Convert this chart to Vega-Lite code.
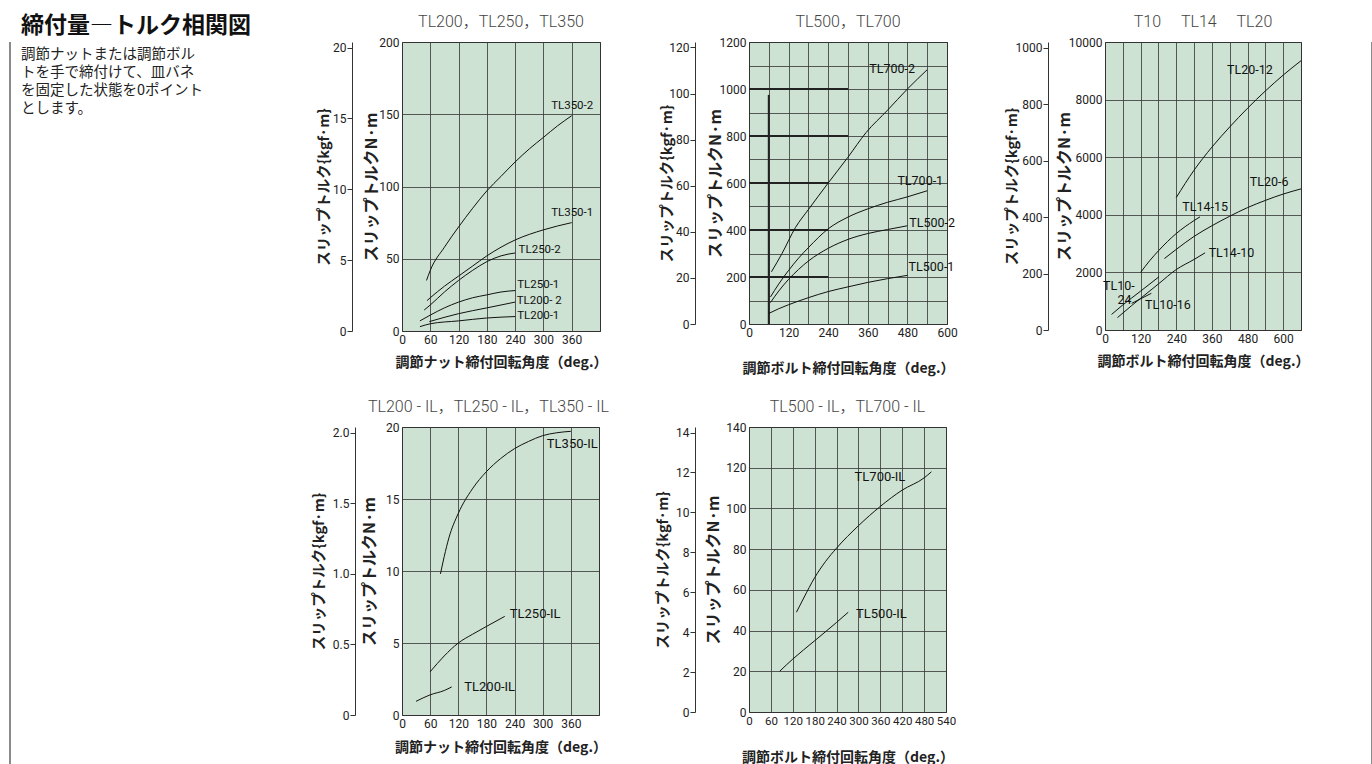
{
 "$schema": "https://vega.github.io/schema/vega-lite/v6.json",
 "padding": {"left": 7, "top": 13, "right": 0, "bottom": 0},
 "autosize": {"type": "pad"},
 "background": "white",
 "config": {
  "view": {"fill": "#cde2d2", "stroke": "#333333", "strokeWidth": 1},
  "axis": {"labelFont": "Roboto", "labelFontSize": 12, "labelColor": "#222222", "titleFont": "Noto Sans CJK JP", "titleFontWeight": "bold", "titleFontSize": 14.5, "titleColor": "#222222", "gridColor": "#333333", "gridWidth": 0.8, "gridOpacity": 1, "domain": false, "ticks": false, "labelFlush": false, "labelOverlap": false, "labelPadding": 3, "format": "d"},
  "axisX": {"labelOverlap": false},
  "axisLeft": {"titleAngle": 270, "titleBaseline": "middle"},
  "axisBottom": {"titleBaseline": "middle", "titleFontSize": 14},
  "title": {"font": "Roboto, Noto Sans CJK JP", "fontSize": 16, "fontWeight": 300, "color": "#444444", "frame": "group", "offset": 6},
  "line": {"color": "#111111", "strokeWidth": 1},
  "text": {"font": "Roboto, Noto Sans CJK JP", "fontSize": 12.5, "color": "#111111"}
 },
 "datasets": {
  "note": [
   {"line": 1, "text": "調節ナットまたは調節ボル"},
   {"line": 2, "text": "トを手で締付けて、皿バネ"},
   {"line": 3, "text": "を固定した状態を0ポイント"},
   {"line": 4, "text": "とします。"}
  ],
  "p1": [
   {"s": "TL350-2", "deg": 52, "nm": 35}, {"s": "TL350-2", "deg": 60, "nm": 42}, {"s": "TL350-2", "deg": 90, "nm": 58}, {"s": "TL350-2", "deg": 120, "nm": 72}, {"s": "TL350-2", "deg": 150, "nm": 85}, {"s": "TL350-2", "deg": 180, "nm": 97}, {"s": "TL350-2", "deg": 210, "nm": 107}, {"s": "TL350-2", "deg": 240, "nm": 117}, {"s": "TL350-2", "deg": 270, "nm": 126}, {"s": "TL350-2", "deg": 300, "nm": 134}, {"s": "TL350-2", "deg": 330, "nm": 142}, {"s": "TL350-2", "deg": 360, "nm": 149},
   {"s": "TL350-1", "deg": 53, "nm": 21}, {"s": "TL350-1", "deg": 60, "nm": 23}, {"s": "TL350-1", "deg": 90, "nm": 31}, {"s": "TL350-1", "deg": 120, "nm": 38}, {"s": "TL350-1", "deg": 150, "nm": 45}, {"s": "TL350-1", "deg": 180, "nm": 52}, {"s": "TL350-1", "deg": 210, "nm": 58}, {"s": "TL350-1", "deg": 240, "nm": 63}, {"s": "TL350-1", "deg": 300, "nm": 70}, {"s": "TL350-1", "deg": 360, "nm": 75},
   {"s": "TL250-2", "deg": 47, "nm": 14.5}, {"s": "TL250-2", "deg": 60, "nm": 18}, {"s": "TL250-2", "deg": 90, "nm": 27}, {"s": "TL250-2", "deg": 120, "nm": 35}, {"s": "TL250-2", "deg": 150, "nm": 42}, {"s": "TL250-2", "deg": 180, "nm": 48}, {"s": "TL250-2", "deg": 210, "nm": 52}, {"s": "TL250-2", "deg": 240, "nm": 54},
   {"s": "TL250-1", "deg": 38, "nm": 7}, {"s": "TL250-1", "deg": 60, "nm": 11}, {"s": "TL250-1", "deg": 90, "nm": 16}, {"s": "TL250-1", "deg": 120, "nm": 20}, {"s": "TL250-1", "deg": 150, "nm": 23}, {"s": "TL250-1", "deg": 180, "nm": 25}, {"s": "TL250-1", "deg": 210, "nm": 27}, {"s": "TL250-1", "deg": 240, "nm": 28},
   {"s": "TL200-2", "deg": 58, "nm": 6.5}, {"s": "TL200-2", "deg": 120, "nm": 12}, {"s": "TL200-2", "deg": 180, "nm": 16}, {"s": "TL200-2", "deg": 240, "nm": 20},
   {"s": "TL200-1", "deg": 38, "nm": 3}, {"s": "TL200-1", "deg": 60, "nm": 5}, {"s": "TL200-1", "deg": 120, "nm": 7}, {"s": "TL200-1", "deg": 180, "nm": 9}, {"s": "TL200-1", "deg": 240, "nm": 10}
  ],
  "p1l": [
   {"s": "TL350-2", "deg": 361, "nm": 156}, {"s": "TL350-1", "deg": 361, "nm": 82}, {"s": "TL250-2", "deg": 292, "nm": 56}, {"s": "TL250-1", "deg": 289, "nm": 31.5}, {"s": "TL200- 2", "deg": 291, "nm": 20.5}, {"s": "TL200-1", "deg": 289, "nm": 10.5}
  ],
  "p2": [
   {"s": "TL700-2", "deg": 68, "nm": 222}, {"s": "TL700-2", "deg": 100, "nm": 300}, {"s": "TL700-2", "deg": 141, "nm": 411}, {"s": "TL700-2", "deg": 180, "nm": 487}, {"s": "TL700-2", "deg": 240, "nm": 600}, {"s": "TL700-2", "deg": 300, "nm": 710}, {"s": "TL700-2", "deg": 355, "nm": 815}, {"s": "TL700-2", "deg": 420, "nm": 910}, {"s": "TL700-2", "deg": 480, "nm": 1000}, {"s": "TL700-2", "deg": 540, "nm": 1082},
   {"s": "TL700-1", "deg": 65, "nm": 115}, {"s": "TL700-1", "deg": 90, "nm": 170}, {"s": "TL700-1", "deg": 120, "nm": 228}, {"s": "TL700-1", "deg": 150, "nm": 280}, {"s": "TL700-1", "deg": 180, "nm": 325}, {"s": "TL700-1", "deg": 240, "nm": 405}, {"s": "TL700-1", "deg": 300, "nm": 455}, {"s": "TL700-1", "deg": 360, "nm": 490}, {"s": "TL700-1", "deg": 420, "nm": 518}, {"s": "TL700-1", "deg": 480, "nm": 541}, {"s": "TL700-1", "deg": 540, "nm": 567},
   {"s": "TL500-2", "deg": 65, "nm": 91}, {"s": "TL500-2", "deg": 90, "nm": 140}, {"s": "TL500-2", "deg": 120, "nm": 190}, {"s": "TL500-2", "deg": 150, "nm": 232}, {"s": "TL500-2", "deg": 180, "nm": 268}, {"s": "TL500-2", "deg": 240, "nm": 322}, {"s": "TL500-2", "deg": 300, "nm": 360}, {"s": "TL500-2", "deg": 360, "nm": 385}, {"s": "TL500-2", "deg": 420, "nm": 402}, {"s": "TL500-2", "deg": 480, "nm": 418},
   {"s": "TL500-1", "deg": 60, "nm": 45}, {"s": "TL500-1", "deg": 90, "nm": 65}, {"s": "TL500-1", "deg": 120, "nm": 82}, {"s": "TL500-1", "deg": 180, "nm": 112}, {"s": "TL500-1", "deg": 240, "nm": 138}, {"s": "TL500-1", "deg": 300, "nm": 158}, {"s": "TL500-1", "deg": 360, "nm": 177}, {"s": "TL500-1", "deg": 420, "nm": 193}, {"s": "TL500-1", "deg": 480, "nm": 207}
  ],
  "p2l": [
   {"s": "TL700-2", "deg": 434, "nm": 1086}, {"s": "TL700-1", "deg": 519, "nm": 609}, {"s": "TL500-2", "deg": 555, "nm": 430}, {"s": "TL500-1", "deg": 553, "nm": 241}
  ],
  "p2r": [
   {"deg": 0, "deg2": 300, "nm": 1000, "nm2": 1000}, {"deg": 0, "deg2": 300, "nm": 800, "nm2": 800}, {"deg": 0, "deg2": 240, "nm": 600, "nm2": 600}, {"deg": 0, "deg2": 240, "nm": 400, "nm2": 400}, {"deg": 0, "deg2": 240, "nm": 200, "nm2": 200}, {"deg": 60, "deg2": 60, "nm": 0, "nm2": 975}
  ],
  "p3": [
   {"s": "TL20-12", "deg": 240, "nm": 4600}, {"s": "TL20-12", "deg": 300, "nm": 5550}, {"s": "TL20-12", "deg": 360, "nm": 6350}, {"s": "TL20-12", "deg": 420, "nm": 7050}, {"s": "TL20-12", "deg": 480, "nm": 7700}, {"s": "TL20-12", "deg": 540, "nm": 8300}, {"s": "TL20-12", "deg": 600, "nm": 8850}, {"s": "TL20-12", "deg": 660, "nm": 9350},
   {"s": "TL20-6", "deg": 200, "nm": 2480}, {"s": "TL20-6", "deg": 240, "nm": 2800}, {"s": "TL20-6", "deg": 300, "nm": 3250}, {"s": "TL20-6", "deg": 360, "nm": 3620}, {"s": "TL20-6", "deg": 420, "nm": 3950}, {"s": "TL20-6", "deg": 480, "nm": 4250}, {"s": "TL20-6", "deg": 540, "nm": 4500}, {"s": "TL20-6", "deg": 600, "nm": 4720}, {"s": "TL20-6", "deg": 660, "nm": 4900},
   {"s": "TL14-15", "deg": 120, "nm": 2000}, {"s": "TL14-15", "deg": 150, "nm": 2400}, {"s": "TL14-15", "deg": 180, "nm": 2750}, {"s": "TL14-15", "deg": 240, "nm": 3350}, {"s": "TL14-15", "deg": 300, "nm": 3800}, {"s": "TL14-15", "deg": 320, "nm": 3930},
   {"s": "TL14-10", "deg": 42, "nm": 430}, {"s": "TL14-10", "deg": 90, "nm": 850}, {"s": "TL14-10", "deg": 120, "nm": 1100}, {"s": "TL14-10", "deg": 180, "nm": 1600}, {"s": "TL14-10", "deg": 240, "nm": 2100}, {"s": "TL14-10", "deg": 300, "nm": 2450}, {"s": "TL14-10", "deg": 337, "nm": 2680},
   {"s": "TL10-24", "deg": 22, "nm": 540}, {"s": "TL10-24", "deg": 60, "nm": 870}, {"s": "TL10-24", "deg": 120, "nm": 1350}, {"s": "TL10-24", "deg": 182, "nm": 1850},
   {"s": "TL10-16", "deg": 90, "nm": 926}, {"s": "TL10-16", "deg": 156, "nm": 1273}
  ],
  "p3l": [
   {"s": "TL20-12", "deg": 488, "nm": 9016}, {"s": "TL20-6", "deg": 553, "nm": 5139}, {"s": "TL14-15", "deg": 337, "nm": 4282}, {"s": "TL14-10", "deg": 426, "nm": 2685}, {"s": "TL10-", "deg": 47, "nm": 1528}, {"s": "24", "deg": 66, "nm": 1042}, {"s": "TL10-16", "deg": 212, "nm": 868}
  ],
  "p4": [
   {"s": "TL350-IL", "deg": 82, "nm": 9.8}, {"s": "TL350-IL", "deg": 90, "nm": 11}, {"s": "TL350-IL", "deg": 100, "nm": 12.3}, {"s": "TL350-IL", "deg": 120, "nm": 14}, {"s": "TL350-IL", "deg": 150, "nm": 15.7}, {"s": "TL350-IL", "deg": 180, "nm": 16.9}, {"s": "TL350-IL", "deg": 210, "nm": 17.8}, {"s": "TL350-IL", "deg": 240, "nm": 18.5}, {"s": "TL350-IL", "deg": 270, "nm": 19}, {"s": "TL350-IL", "deg": 300, "nm": 19.4}, {"s": "TL350-IL", "deg": 330, "nm": 19.6}, {"s": "TL350-IL", "deg": 360, "nm": 19.7},
   {"s": "TL250-IL", "deg": 60, "nm": 3}, {"s": "TL250-IL", "deg": 90, "nm": 4.1}, {"s": "TL250-IL", "deg": 120, "nm": 5}, {"s": "TL250-IL", "deg": 150, "nm": 5.6}, {"s": "TL250-IL", "deg": 180, "nm": 6.15}, {"s": "TL250-IL", "deg": 219, "nm": 6.85},
   {"s": "TL200-IL", "deg": 30, "nm": 0.95}, {"s": "TL200-IL", "deg": 60, "nm": 1.4}, {"s": "TL200-IL", "deg": 90, "nm": 1.7}, {"s": "TL200-IL", "deg": 106, "nm": 1.95}
  ],
  "p4l": [
   {"s": "TL350-IL", "deg": 363, "nm": 18.84}, {"s": "TL250-IL", "deg": 284, "nm": 7.0}, {"s": "TL200-IL", "deg": 187, "nm": 1.97}
  ],
  "p5": [
   {"s": "TL700-IL", "deg": 130, "nm": 49}, {"s": "TL700-IL", "deg": 150, "nm": 56}, {"s": "TL700-IL", "deg": 180, "nm": 66}, {"s": "TL700-IL", "deg": 210, "nm": 74}, {"s": "TL700-IL", "deg": 240, "nm": 80.5}, {"s": "TL700-IL", "deg": 300, "nm": 91.5}, {"s": "TL700-IL", "deg": 360, "nm": 101}, {"s": "TL700-IL", "deg": 420, "nm": 109}, {"s": "TL700-IL", "deg": 480, "nm": 115}, {"s": "TL700-IL", "deg": 500, "nm": 118},
   {"s": "TL500-IL", "deg": 84, "nm": 20}, {"s": "TL500-IL", "deg": 120, "nm": 26}, {"s": "TL500-IL", "deg": 180, "nm": 35}, {"s": "TL500-IL", "deg": 240, "nm": 44}, {"s": "TL500-IL", "deg": 272, "nm": 49}
  ],
  "p5l": [
   {"s": "TL700-IL", "deg": 359, "nm": 115.4}, {"s": "TL500-IL", "deg": 363, "nm": 48.2}
  ],
  "dummy": [{"k": 0}]
 },
 "spacing": 59,
 "hconcat": [
  {
   "spacing": 8,
   "hconcat": [
    {"width": 2, "height": 751, "view": {"stroke": null, "fill": "#8a8a8a"}, "data": {"name": "dummy"}, "mark": {"type": "point", "opacity": 0}},
    {
     "columns": 6,
     "align": "each",
     "bounds": "flush",
     "spacing": {"row": 96, "column": 0},
     "concat": [
      {
       "width": 250, "height": 80,
       "view": {"fill": null, "stroke": null},
       "title": {"text": "締付量―トルク相関図", "anchor": "start", "frame": "group", "font": "Noto Sans CJK JP", "fontSize": 23, "fontWeight": "bold", "color": "#111111", "offset": 4},
       "data": {"name": "note"},
       "mark": {"type": "text", "align": "left", "baseline": "middle", "font": "Noto Sans CJK JP", "fontSize": 14.5, "color": "#222222"},
       "encoding": {
        "x": {"datum": 0, "type": "quantitative", "scale": {"domain": [0, 1]}, "axis": null},
        "y": {"field": "line", "type": "ordinal", "scale": {"type": "point", "padding": 0.7}, "axis": null},
        "text": {"field": "text"}
       }
      },
      {
       "width": 198, "height": 289,
       "title": {"text": "TL200，TL250，TL350"},
       "layer": [
        {"layer": [
         {"data": {"name": "p1"}, "mark": {"type": "line", "interpolate": "monotone"},
          "encoding": {
           "x": {"field": "deg", "type": "quantitative", "scale": {"domain": [0, 420], "nice": false},
                 "axis": {"values": [0, 60, 120, 180, 240, 300, 360, 420], "tickCount": 100, "labelExpr": "datum.value <= 360 ? datum.label : ''", "title": "調節ナット締付回転角度（deg.）", "titleY": 31}},
           "y": {"field": "nm", "type": "quantitative", "scale": {"domain": [0, 200], "nice": false},
                 "axis": {"values": [0, 50, 100, 150, 200], "tickCount": 100, "title": "スリップトルクN·m", "titleX": -31, "titleFontSize": 16}},
           "detail": {"field": "s"}}},
         {"data": {"name": "p1l"}, "mark": {"type": "text", "fontSize": 11.5},
          "encoding": {"x": {"field": "deg", "type": "quantitative"}, "y": {"field": "nm", "type": "quantitative"}, "text": {"field": "s"}}}
        ]},
        {"data": {"name": "dummy"}, "mark": {"type": "point", "opacity": 0},
         "encoding": {"y": {"field": "k", "type": "quantitative", "scale": {"domain": [0, 20.394], "nice": false},
          "axis": {"orient": "left", "offset": 50, "values": [0, 5, 10, 15, 20], "tickCount": 100, "title": "スリップトルク{kgf·m}", "titleX": -28, "domain": true, "ticks": true, "tickSize": 5, "labelPadding": 1, "grid": false, "domainColor": "#333333", "tickColor": "#333333"}}}}
       ],
       "resolve": {"scale": {"y": "independent"}}
      },
      {"width": 149, "height": 1, "view": {"stroke": null, "fill": null}, "data": {"name": "dummy"}, "mark": {"type": "point", "opacity": 0}},
      {
       "width": 198, "height": 282,
       "title": {"text": "TL500，TL700"},
       "layer": [
        {"layer": [
         {"data": {"name": "p2r"}, "mark": {"type": "rule", "color": "#222222", "strokeWidth": 2},
          "encoding": {"x": {"field": "deg", "type": "quantitative"}, "x2": {"field": "deg2"}, "y": {"field": "nm", "type": "quantitative"}, "y2": {"field": "nm2"}}},
         {"data": {"name": "p2"}, "mark": {"type": "line", "interpolate": "monotone"},
          "encoding": {
           "x": {"field": "deg", "type": "quantitative", "scale": {"domain": [0, 600], "nice": false},
                 "axis": {"values": [0, 60, 120, 180, 240, 300, 360, 420, 480, 540, 600], "tickCount": 100, "labelExpr": "datum.value % 120 === 0 ? datum.label : ''", "title": "調節ボルト締付回転角度（deg.）", "titleY": 44}},
           "y": {"field": "nm", "type": "quantitative", "scale": {"domain": [0, 1200], "nice": false},
                 "axis": {"values": [0, 100, 200, 300, 400, 500, 600, 700, 800, 900, 1000, 1100, 1200], "tickCount": 100, "labelExpr": "datum.value % 200 === 0 ? datum.label : ''", "title": "スリップトルクN·m", "titleX": -34, "titleFontSize": 16}},
           "detail": {"field": "s"}}},
         {"data": {"name": "p2l"}, "mark": {"type": "text"},
          "encoding": {"x": {"field": "deg", "type": "quantitative"}, "y": {"field": "nm", "type": "quantitative"}, "text": {"field": "s"}}}
        ]},
        {"data": {"name": "dummy"}, "mark": {"type": "point", "opacity": 0},
         "encoding": {"y": {"field": "k", "type": "quantitative", "scale": {"domain": [0, 122.37], "nice": false},
          "axis": {"orient": "left", "offset": 54, "values": [0, 20, 40, 60, 80, 100, 120], "tickCount": 100, "title": "スリップトルク{kgf·m}", "titleX": -28, "domain": true, "ticks": true, "tickSize": 5, "labelPadding": 1, "grid": false, "domainColor": "#333333", "tickColor": "#333333"}}}}
       ],
       "resolve": {"scale": {"y": "independent"}}
      },
      {"width": 158, "height": 1, "view": {"stroke": null, "fill": null}, "data": {"name": "dummy"}, "mark": {"type": "point", "opacity": 0}},
      {
       "width": 196, "height": 288,
       "title": {"text": "T10\u2003 TL14\u2003 TL20"},
       "layer": [
        {"layer": [
         {"data": {"name": "p3"}, "mark": {"type": "line", "interpolate": "monotone"},
          "encoding": {
           "x": {"field": "deg", "type": "quantitative", "scale": {"domain": [0, 660], "nice": false},
                 "axis": {"values": [0, 60, 120, 180, 240, 300, 360, 420, 480, 540, 600, 660], "tickCount": 100, "labelExpr": "datum.value % 120 === 0 && datum.value < 660 ? datum.label : ''", "title": "調節ボルト締付回転角度（deg.）", "titleY": 31}},
           "y": {"field": "nm", "type": "quantitative", "scale": {"domain": [0, 10000], "nice": false},
                 "axis": {"values": [0, 2000, 4000, 6000, 8000, 10000], "tickCount": 100, "title": "スリップトルクN·m", "titleX": -41, "titleFontSize": 16}},
           "detail": {"field": "s"}}},
         {"data": {"name": "p3l"}, "mark": {"type": "text"},
          "encoding": {"x": {"field": "deg", "type": "quantitative"}, "y": {"field": "nm", "type": "quantitative"}, "text": {"field": "s"}}}
        ]},
        {"data": {"name": "dummy"}, "mark": {"type": "point", "opacity": 0},
         "encoding": {"y": {"field": "k", "type": "quantitative", "scale": {"domain": [0, 1019.7], "nice": false},
          "axis": {"orient": "left", "offset": 57, "values": [0, 200, 400, 600, 800, 1000], "tickCount": 100, "title": "スリップトルク{kgf·m}", "titleX": -36, "domain": true, "ticks": true, "tickSize": 5, "labelPadding": 1, "grid": false, "domainColor": "#333333", "tickColor": "#333333"}}}}
       ],
       "resolve": {"scale": {"y": "independent"}}
      },
      {"width": 381, "height": 1, "view": {"stroke": null, "fill": null}, "data": {"name": "dummy"}, "mark": {"type": "point", "opacity": 0}},
      {
       "width": 197, "height": 288,
       "title": {"text": "TL200 - IL，TL250 - IL，TL350 - IL", "dx": -12},
       "layer": [
        {"layer": [
         {"data": {"name": "p4"}, "mark": {"type": "line", "interpolate": "monotone"},
          "encoding": {
           "x": {"field": "deg", "type": "quantitative", "scale": {"domain": [0, 420], "nice": false},
                 "axis": {"values": [0, 60, 120, 180, 240, 300, 360, 420], "tickCount": 100, "labelExpr": "datum.value <= 360 ? datum.label : ''", "title": "調節ナット締付回転角度（deg.）", "titleY": 32}},
           "y": {"field": "nm", "type": "quantitative", "scale": {"domain": [0, 20], "nice": false},
                 "axis": {"values": [0, 5, 10, 15, 20], "tickCount": 100, "title": "スリップトルクN·m", "titleX": -33, "titleFontSize": 16}},
           "detail": {"field": "s"}}},
         {"data": {"name": "p4l"}, "mark": {"type": "text", "fontSize": 13},
          "encoding": {"x": {"field": "deg", "type": "quantitative"}, "y": {"field": "nm", "type": "quantitative"}, "text": {"field": "s"}}}
        ]},
        {"data": {"name": "dummy"}, "mark": {"type": "point", "opacity": 0},
         "encoding": {"y": {"field": "k", "type": "quantitative", "scale": {"domain": [0, 2.0394], "nice": false},
          "axis": {"orient": "left", "offset": 47, "values": [0, 0.5, 1, 1.5, 2], "tickCount": 100, "format": ".1f", "labelExpr": "datum.value === 0 ? '0' : datum.label", "title": "スリップトルク{kgf·m}", "titleX": -36, "domain": true, "ticks": true, "tickSize": 5, "labelPadding": 1, "grid": false, "domainColor": "#333333", "tickColor": "#333333"}}}}
       ],
       "resolve": {"scale": {"y": "independent"}}
      },
      {"width": 149, "height": 1, "view": {"stroke": null, "fill": null}, "data": {"name": "dummy"}, "mark": {"type": "point", "opacity": 0}},
      {
       "width": 197, "height": 285,
       "title": {"text": "TL500 - IL，TL700 - IL"},
       "layer": [
        {"layer": [
         {"data": {"name": "p5"}, "mark": {"type": "line", "interpolate": "monotone"},
          "encoding": {
           "x": {"field": "deg", "type": "quantitative", "scale": {"domain": [0, 540], "nice": false},
                 "axis": {"values": [0, 60, 120, 180, 240, 300, 360, 420, 480, 540], "tickCount": 100, "labelFontSize": 11.5, "title": "調節ボルト締付回転角度（deg.）", "titleY": 45}},
           "y": {"field": "nm", "type": "quantitative", "scale": {"domain": [0, 140], "nice": false},
                 "axis": {"values": [0, 20, 40, 60, 80, 100, 120, 140], "tickCount": 100, "title": "スリップトルクN·m", "titleX": -36, "titleFontSize": 16}},
           "detail": {"field": "s"}}},
         {"data": {"name": "p5l"}, "mark": {"type": "text", "fontSize": 13},
          "encoding": {"x": {"field": "deg", "type": "quantitative"}, "y": {"field": "nm", "type": "quantitative"}, "text": {"field": "s"}}}
        ]},
        {"data": {"name": "dummy"}, "mark": {"type": "point", "opacity": 0},
         "encoding": {"y": {"field": "k", "type": "quantitative", "scale": {"domain": [0, 14.276], "nice": false},
          "axis": {"orient": "left", "offset": 54, "values": [0, 2, 4, 6, 8, 10, 12, 14], "tickCount": 100, "title": "スリップトルク{kgf·m}", "titleX": -32, "domain": true, "ticks": true, "tickSize": 5, "labelPadding": 1, "grid": false, "domainColor": "#333333", "tickColor": "#333333"}}}}
       ],
       "resolve": {"scale": {"y": "independent"}}
      }
     ]
    }
   ]
  },
  {"width": 2, "height": 751, "view": {"stroke": null, "fill": "#8a8a8a"}, "data": {"name": "dummy"}, "mark": {"type": "point", "opacity": 0}}
 ]
}
